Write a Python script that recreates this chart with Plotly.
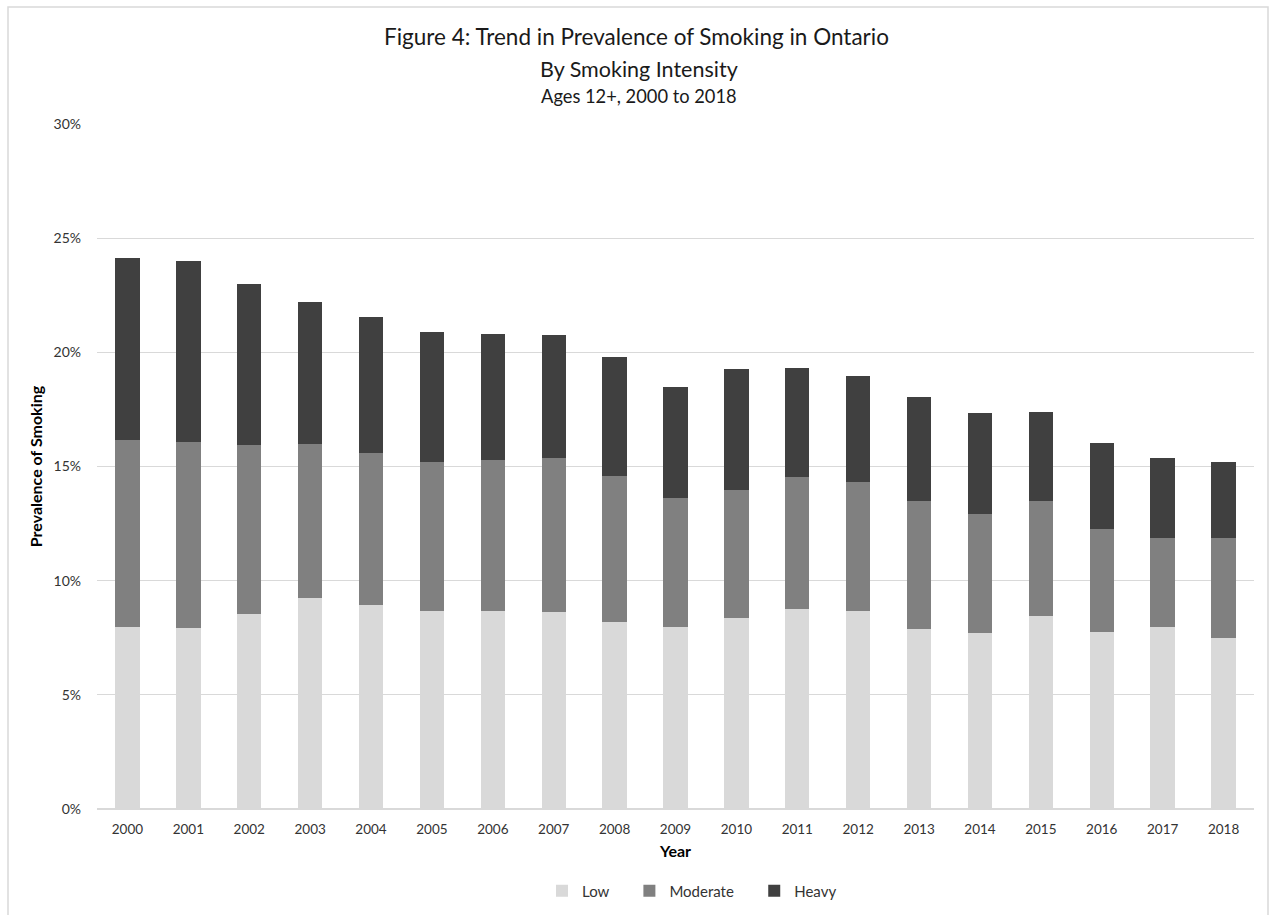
import plotly.graph_objects as go

years = [str(y) for y in range(2000, 2019)]

# Cumulative tops of each stack (percent)
low = [7.96, 7.92, 8.53, 9.23, 8.95, 8.67, 8.65, 8.61, 8.18, 7.98,
       8.37, 8.77, 8.67, 7.88, 7.72, 8.45, 7.74, 7.96, 7.48]
low_mod_top = [16.17, 16.07, 15.93, 15.99, 15.58, 15.18, 15.28, 15.36, 14.58, 13.63,
               13.96, 14.54, 14.34, 13.51, 12.93, 13.51, 12.27, 11.86, 11.88]
total = [24.11, 23.99, 22.98, 22.22, 21.54, 20.87, 20.81, 20.75, 19.79, 18.50,
         19.28, 19.30, 18.96, 18.06, 17.33, 17.39, 16.01, 15.36, 15.20]

moderate = [round(m - l, 2) for m, l in zip(low_mod_top, low)]
heavy = [round(t - m, 2) for t, m in zip(total, low_mod_top)]

y_ticks = [0, 5, 10, 15, 20, 25, 30]
y_tick_text = [f"{v}%" for v in y_ticks]

FONT = "Lato"
TXT = "#333333"
W, H = 1272, 915
L, R, T, B = 97, 18, 124, 106
PW, PH = W - L - R, H - T - B

NB = "\u00a0"
series = [("Low" + NB * 4, low, "#d9d9d9"),
          ("Moderate" + NB * 4, moderate, "#808080"),
          ("Heavy", heavy, "#404040")]

fig = go.Figure()
for name, vals, color in series:
    fig.add_trace(go.Bar(x=years, y=vals, name=name, marker_color=color,
                         marker_line_width=0, width=0.4))

fig.update_layout(
    barmode="stack",
    width=W, height=H,
    margin=dict(l=L, r=R, t=T, b=B, autoexpand=False),
    paper_bgcolor="white", plot_bgcolor="white",
    font=dict(family=FONT, size=14, color=TXT),
    showlegend=True,
    legend=dict(orientation="h", x=(692 - L) / PW, xanchor="center", xref="paper",
                y=1 - 891 / H, yanchor="middle", yref="container", traceorder="normal",
                font=dict(family=FONT, size=15, color=TXT)),
    xaxis=dict(type="category", showgrid=False, ticks="", automargin=False,
               tickfont=dict(size=13.5, color=TXT), ticklabelstandoff=10,
               title=dict(text="<b>Year</b>", font=dict(size=16, color="#000000"), standoff=10),
               showline=False),
    yaxis=dict(range=[0, 30], tickmode="array", tickvals=y_ticks, ticktext=y_tick_text,
               automargin=False, ticks="", ticklabelstandoff=15,
               gridcolor="#d9d9d9", gridwidth=1, zeroline=True, zerolinecolor="#d9d9d9",
               zerolinewidth=1.5,
               tickfont=dict(size=14, color=TXT),
               title=dict(text="<b>Prevalence of Smoking</b>",
                          font=dict(size=16, color="#000000"), standoff=6)),
)

titles = [("Figure 4: Trend in Prevalence of Smoking in Ontario", 22.5, 37, 636),
          ("By Smoking Intensity", 21.5, 69, 639),
          ("Ages 12+, 2000 to 2018", 18.3, 96, 639)]
for text, size, ypx, xpx in titles:
    fig.add_annotation(text=text, xref="paper", yref="paper",
                       x=(xpx - L) / PW, y=(H - B - ypx) / PH,
                       xanchor="center", yanchor="middle", showarrow=False,
                       font=dict(family=FONT, size=size, color="#1a1a1a"))

# Chart frame
fig.add_shape(type="rect", xref="paper", yref="paper",
              x0=(8 - L) / PW, x1=(1268 - L) / PW,
              y0=(H - B - 925) / PH, y1=(H - B - 7) / PH,
              line=dict(color="#d9d9d9", width=1.5), fillcolor="rgba(0,0,0,0)", layer="below")

fig.write_html("out.html")
